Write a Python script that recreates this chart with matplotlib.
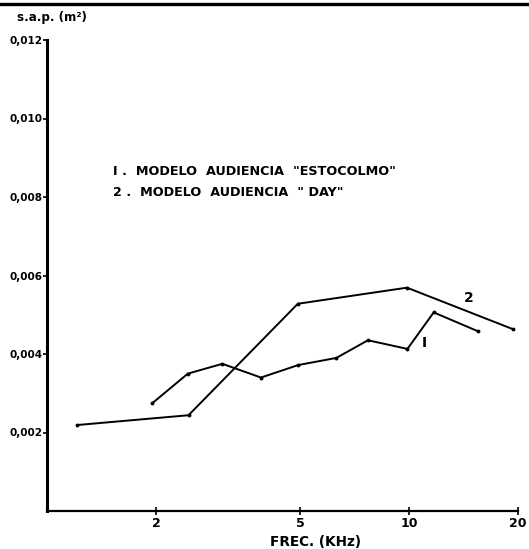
import numpy as np
import matplotlib
matplotlib.use("Agg")
import matplotlib.pyplot as plt
from matplotlib.ticker import FixedLocator, FuncFormatter

# modelo 1: "Estocolmo" (tercios de octava)
f_estocolmo = [1.95, 2.45, 3.05, 3.9, 4.95, 6.3, 7.7, 9.9, 11.7, 15.5]
sap_estocolmo = [0.00274, 0.0035, 0.00375, 0.0034, 0.00372, 0.0039, 0.00435, 0.00413, 0.00506, 0.00458]

# modelo 2: "Day"
f_day = [1.21, 2.46, 4.93, 9.87, 19.4]
sap_day = [0.00219, 0.00244, 0.00528, 0.00569, 0.00463]

x_ticks = [2, 5, 10, 20]
y_ticks = [0.002, 0.004, 0.006, 0.008, 0.010, 0.012]
leyenda = ['I .  MODELO  AUDIENCIA  "ESTOCOLMO"', '2 .  MODELO  AUDIENCIA  " DAY"']

plt.rcParams['font.family'] = ['DejaVu Sans']
plt.rcParams['font.weight'] = 'bold'

fig = plt.figure(figsize=[5.29, 5.49], dpi=100)
ax = fig.add_axes([47 / 529, 1 - 511 / 549, 471 / 529, 471 / 549])

ax.plot(f_estocolmo, sap_estocolmo, color="black", lw=1.4, marker="o", ms=1.8)
ax.plot(f_day, sap_day, color="black", lw=1.4, marker="o", ms=1.8)

ax.set_xscale("log")
ax.set_xlim(1, 20)
ax.set_ylim(0, 0.012)

ax.xaxis.set_major_locator(FixedLocator(x_ticks))
ax.xaxis.set_minor_locator(FixedLocator([]))
ax.xaxis.set_major_formatter(FuncFormatter(lambda v, p: "%d" % v))
ax.yaxis.set_major_locator(FixedLocator(y_ticks))
ax.yaxis.set_major_formatter(FuncFormatter(lambda v, p: ("%.3f" % v).replace(".", ",")))

ax.tick_params(axis="x", direction="inout", length=6, width=1.2, labelsize=9, pad=1)
ax.tick_params(axis="y", direction="out", length=3, width=1.2, labelsize=7.5, pad=0)

for side in ["top", "right"]:
    ax.spines[side].set_visible(False)
ax.spines["left"].set_linewidth(2.2)
ax.spines["bottom"].set_linewidth(1.6)

# etiquetas de las curvas
ax.text(11.0, 0.00428, "I", fontsize=10, ha="center", va="center")
ax.text(14.6, 0.00543, "2", fontsize=10, ha="center", va="center")

ax.text(0.14, 0.72, leyenda[0], transform=ax.transAxes, fontsize=9.2, va="center")
ax.text(0.14, 0.677, leyenda[1], transform=ax.transAxes, fontsize=9.2, va="center")

fig.text(17 / 529, 1 - 17 / 549, "s.a.p. (m²)", fontsize=8.6, va="center", ha="left")
fig.text(315 / 529, 1 - 542 / 549, "FREC. (KHz)", fontsize=9.8, va="center", ha="center")

# linea superior de la pagina
fig.add_artist(plt.Line2D([0, 1], [1 - 4 / 549, 1 - 4 / 549], color="black", lw=2.4,
                          transform=fig.transFigure))

fig.savefig("out.png", dpi=100)
